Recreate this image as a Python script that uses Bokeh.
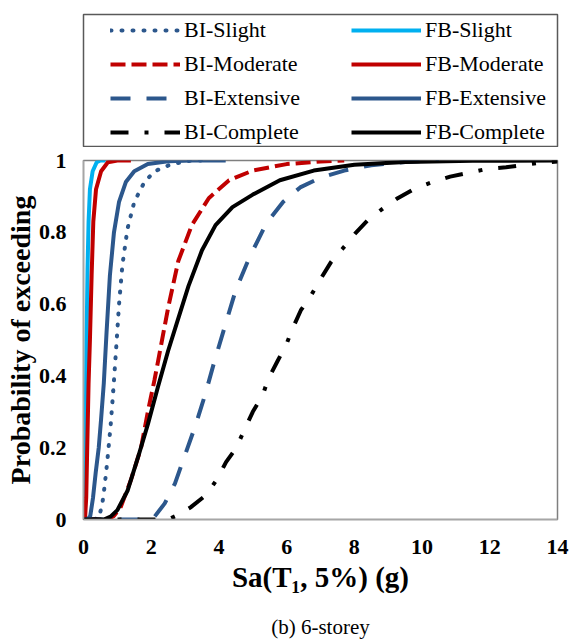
from bokeh.plotting import figure
from bokeh.models import Range1d, FixedTicker, Legend, LegendItem, LinearAxis
from bokeh.layouts import column
from bokeh.embed import file_html
from bokeh.resources import INLINE

SERIF = "Liberation Serif"

# ---- data: Sa (g) vs probability of exceeding ----
bi_slight_x = [0, 0.3, 0.45, 0.55, 0.62, 0.7, 0.8, 0.88, 0.96, 1.05, 1.15, 1.3, 1.5, 1.8, 2.1, 2.6, 3.2, 3.6]
bi_slight_p = [0, 0, 0.005, 0.04, 0.09, 0.16, 0.26, 0.36, 0.47, 0.6, 0.71, 0.81, 0.885, 0.94, 0.97, 0.99, 1.0, 1.0]

bi_moderate_x = [0, 0.7, 0.9, 1.1, 1.4, 1.7, 1.9, 2.1, 2.3, 2.5, 2.8, 3.2, 3.7, 4.3, 5.0, 6.0, 7.0, 7.7]
bi_moderate_p = [0, 0, 0.01, 0.035, 0.11, 0.2, 0.3, 0.39, 0.49, 0.59, 0.72, 0.82, 0.895, 0.945, 0.972, 0.99, 0.997, 1.0]

bi_extensive_x = [0, 1.9, 2.1, 2.4, 2.7, 3.0, 3.3, 3.6, 3.85, 4.15, 4.5, 4.9, 5.4, 5.9, 6.4, 7.0, 7.7, 8.5, 9.5, 10.5]
bi_extensive_p = [0, 0, 0.008, 0.045, 0.1, 0.18, 0.26, 0.35, 0.435, 0.53, 0.64, 0.73, 0.825, 0.885, 0.925, 0.952, 0.972, 0.987, 0.996, 1.0]

bi_complete_x = [0, 2.5, 2.73, 3.18, 3.62, 3.96, 4.21, 4.5, 4.75, 5.0, 5.29, 5.46, 5.74, 5.98, 6.18, 6.42,
                 6.72, 7.01, 7.31, 7.65, 8.02, 8.39, 8.84, 9.28, 9.77, 10.31, 10.83, 11.39, 11.94, 12.48,
                 13.02, 13.61, 14.0]
bi_complete_p = [0, 0, 0.01, 0.035, 0.068, 0.114, 0.16, 0.198, 0.249, 0.3, 0.346, 0.392, 0.443, 0.485, 0.533,
                 0.583, 0.624, 0.671, 0.717, 0.754, 0.796, 0.833, 0.866, 0.895, 0.921, 0.94, 0.955, 0.966,
                 0.977, 0.981, 0.988, 0.995, 0.997]

fb_slight_x = [0, 0.02, 0.04, 0.06, 0.09, 0.12, 0.15, 0.19, 0.27, 0.39, 0.5, 0.65]
fb_slight_p = [0, 0.01, 0.06, 0.2, 0.5, 0.7, 0.83, 0.92, 0.97, 0.995, 1.0, 1.0]

fb_moderate_x = [0, 0.05, 0.08, 0.11, 0.15, 0.19, 0.24, 0.29, 0.37, 0.52, 0.72, 1.0, 1.4]
fb_moderate_p = [0, 0.01, 0.06, 0.2, 0.38, 0.5, 0.68, 0.83, 0.92, 0.97, 0.995, 1.0, 1.0]

fb_extensive_x = [0, 0.12, 0.2, 0.28, 0.36, 0.45, 0.52, 0.6, 0.68, 0.78, 0.9, 1.05, 1.25, 1.5, 1.9, 2.5, 3.2, 4.2]
fb_extensive_p = [0, 0, 0.01, 0.06, 0.13, 0.2, 0.28, 0.38, 0.52, 0.68, 0.8, 0.885, 0.94, 0.97, 0.99, 0.998, 1.0, 1.0]

fb_complete_x = [0, 0.6, 0.8, 1.0, 1.3, 1.6, 1.9, 2.2, 2.5, 2.8, 3.1, 3.5, 3.9, 4.4, 5.0, 5.8, 6.8, 8.0, 9.5, 11.5, 14.0]
fb_complete_p = [0, 0, 0.008, 0.026, 0.08, 0.17, 0.265, 0.37, 0.47, 0.56, 0.65, 0.75, 0.82, 0.87, 0.905, 0.945,
                 0.972, 0.988, 0.996, 0.999, 1.0]

x_ticks = [0, 2, 4, 6, 8, 10, 12, 14]
y_ticks = [0, 0.2, 0.4, 0.6, 0.8, 1]
y_tick_labels = ["0", "0.2", "0.4", "0.6", "0.8", "1"]

BLUE = "#2C578C"
CYAN = "#00B0F0"
RED = "#C00000"
BLACK = "#000000"

series = [
    ("BI-Slight", bi_slight_x, bi_slight_p, BLUE, "1 10", "round"),
    ("BI-Moderate", bi_moderate_x, bi_moderate_p, RED, "15 6", "butt"),
    ("BI-Extensive", bi_extensive_x, bi_extensive_p, BLUE, "20 16", "butt"),
    ("BI-Complete", bi_complete_x, bi_complete_p, BLACK, "18 16 4 16", "butt"),
    ("FB-Slight", fb_slight_x, fb_slight_p, CYAN, "solid", "butt"),
    ("FB-Moderate", fb_moderate_x, fb_moderate_p, RED, "solid", "butt"),
    ("FB-Extensive", fb_extensive_x, fb_extensive_p, BLUE, "solid", "butt"),
    ("FB-Complete", fb_complete_x, fb_complete_p, BLACK, "solid", "butt"),
]
LW = 4
W = 571

# ---------------- legend panel (its frame is the legend box) ----------------
# the same series are drawn here but far outside this panel's view, so only the legend shows
lf = figure(width=W, height=147, x_range=Range1d(0, 14), y_range=Range1d(5, 6),
            x_axis_location=None, y_axis_location=None, toolbar_location=None,
            output_backend="svg", min_border_left=83, min_border_right=14,
            min_border_top=14, min_border_bottom=1)
lf.grid.visible = False
lf.outline_line_color = "#595959"
lf.outline_line_width = 1.5

items = []
for name, xs, ps, col, dash, cap in series:
    r = lf.line(x=xs, y=ps, line_color=col, line_width=LW, line_dash=dash, line_cap=cap)
    items.append(LegendItem(label=name, renderers=[r]))

def make_legend(its, x):
    return Legend(items=its, location=(x, 1), orientation="vertical", padding=0, spacing=8,
                  glyph_width=70, glyph_height=26, label_height=26, label_standoff=4,
                  border_line_color=None, background_fill_alpha=0,
                  label_text_font=SERIF, label_text_font_size="22px", label_text_color="#000000")

lf.add_layout(make_legend(items[:4], 27))
lf.add_layout(make_legend(items[4:], 268))

# ---------------- main chart ----------------
p = figure(width=W, height=495, x_range=Range1d(0, 14), y_range=Range1d(0, 1),
           toolbar_location=None, output_backend="svg",
           min_border_left=83, min_border_right=14, min_border_top=13, min_border_bottom=123)
p.grid.visible = False
p.outline_line_color = "#7F7F7F"
p.outline_line_width = 1.5

for name, xs, ps, col, dash, cap in series:
    p.line(x=xs, y=ps, line_color=col, line_width=LW, line_dash=dash, line_cap=cap)

p.xaxis.ticker = FixedTicker(ticks=x_ticks)
p.yaxis.ticker = FixedTicker(ticks=y_ticks)
p.yaxis.major_label_overrides = {t: s for t, s in zip(y_ticks, y_tick_labels)}

for ax in (p.xaxis, p.yaxis):
    ax.major_tick_out = 0
    ax.major_tick_in = 0
    ax.minor_tick_out = 0
    ax.minor_tick_in = 0
    ax.axis_line_color = "#A6A6A6"
    ax.axis_line_width = 1.5
    ax.major_label_text_font = SERIF
    ax.major_label_text_font_style = "bold"
    ax.major_label_text_font_size = "22px"
    ax.major_label_text_color = "#000000"
    ax.axis_label_text_font = SERIF
    ax.axis_label_text_font_style = "bold"
    ax.axis_label_text_color = "#000000"

p.xaxis.major_label_standoff = 20
p.yaxis.major_label_standoff = 17
p.xaxis.axis_label = "Sa(T\u2081, 5%) (g)"
p.xaxis.axis_label_text_font_size = "29px"
p.xaxis.axis_label_standoff = 4
p.yaxis.axis_label = "Probability of exceeding"
p.yaxis.axis_label_text_font_size = "28px"
p.yaxis.axis_label_standoff = 0

# caption under the axis title, as a label-only axis
cap_axis = LinearAxis(ticker=FixedTicker(ticks=[]), axis_line_color=None,
                      major_tick_out=0, major_tick_in=0, minor_tick_out=0, minor_tick_in=0,
                      major_label_standoff=0, axis_label="(b) 6-storey", axis_label_standoff=19,
                      axis_label_text_font=SERIF, axis_label_text_font_size="21px",
                      axis_label_text_font_style="normal", axis_label_text_color="#000000")
p.add_layout(cap_axis, "below")

layout = column(lf, p, spacing=0)
open("out.html", "w").write(file_html(layout, INLINE))
